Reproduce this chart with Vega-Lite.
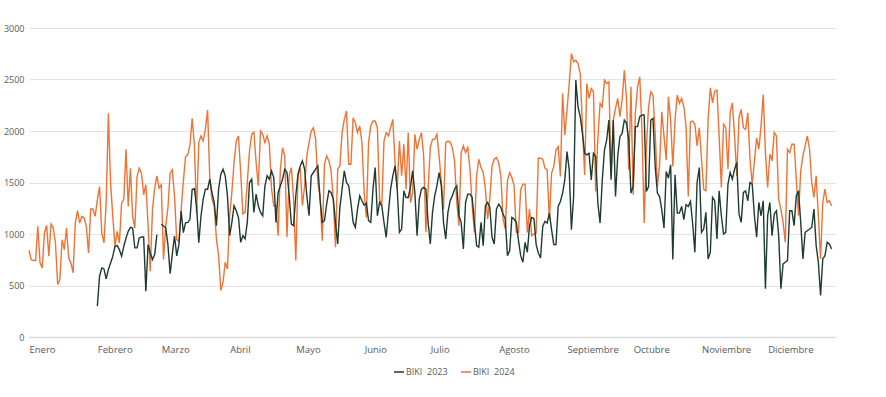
{
"$schema": "https://vega.github.io/schema/vega-lite/v6.json",
"width": 807, "height": 309,
"autosize": {"type": "none"},
"padding": {"left": 29, "top": 28, "right": 50, "bottom": 60},
"background": "white",
"config": {"view": {"stroke": null}, "font": "Open Sans"},
"data": {"values": [
{"dia":0,"serie":"BIKI  2024","valor":842},{"dia":1,"serie":"BIKI  2024","valor":750},{"dia":2,"serie":"BIKI  2024","valor":742},{"dia":3,"serie":"BIKI  2024","valor":742},{"dia":4,"serie":"BIKI  2024","valor":1074},{"dia":5,"serie":"BIKI  2024","valor":720},{"dia":6,"serie":"BIKI  2024","valor":671},{"dia":7,"serie":"BIKI  2024","valor":1010},{"dia":8,"serie":"BIKI  2024","valor":1084},{"dia":9,"serie":"BIKI  2024","valor":784},
{"dia":10,"serie":"BIKI  2024","valor":1097},{"dia":11,"serie":"BIKI  2024","valor":1058},{"dia":12,"serie":"BIKI  2024","valor":913},{"dia":13,"serie":"BIKI  2024","valor":510},{"dia":14,"serie":"BIKI  2024","valor":558},{"dia":15,"serie":"BIKI  2024","valor":945},{"dia":16,"serie":"BIKI  2024","valor":848},{"dia":17,"serie":"BIKI  2024","valor":1058},{"dia":18,"serie":"BIKI  2024","valor":768},{"dia":19,"serie":"BIKI  2024","valor":720},
{"dia":20,"serie":"BIKI  2024","valor":623},{"dia":21,"serie":"BIKI  2024","valor":1106},{"dia":22,"serie":"BIKI  2024","valor":1226},{"dia":23,"serie":"BIKI  2024","valor":1106},{"dia":24,"serie":"BIKI  2024","valor":1171},{"dia":25,"serie":"BIKI  2024","valor":1155},{"dia":26,"serie":"BIKI  2024","valor":1074},{"dia":27,"serie":"BIKI  2024","valor":816},{"dia":28,"serie":"BIKI  2024","valor":1242},{"dia":29,"serie":"BIKI  2024","valor":1242},
{"dia":30,"serie":"BIKI  2024","valor":1171},{"dia":31,"serie":"BIKI  2024","valor":1332},{"dia":32,"serie":"BIKI  2024","valor":1461},{"dia":33,"serie":"BIKI  2024","valor":1010},{"dia":34,"serie":"BIKI  2024","valor":913},{"dia":35,"serie":"BIKI  2024","valor":1300},{"dia":36,"serie":"BIKI  2024","valor":2171},{"dia":37,"serie":"BIKI  2024","valor":1494},{"dia":38,"serie":"BIKI  2024","valor":1171},{"dia":39,"serie":"BIKI  2024","valor":880},
{"dia":40,"serie":"BIKI  2024","valor":1026},{"dia":41,"serie":"BIKI  2024","valor":913},{"dia":42,"serie":"BIKI  2024","valor":1300},{"dia":43,"serie":"BIKI  2024","valor":1339},{"dia":44,"serie":"BIKI  2024","valor":1823},{"dia":45,"serie":"BIKI  2024","valor":1268},{"dia":46,"serie":"BIKI  2024","valor":1639},{"dia":47,"serie":"BIKI  2024","valor":1171},{"dia":48,"serie":"BIKI  2024","valor":1058},{"dia":49,"serie":"BIKI  2024","valor":1558},
{"dia":50,"serie":"BIKI  2024","valor":1639},{"dia":51,"serie":"BIKI  2024","valor":1590},{"dia":52,"serie":"BIKI  2024","valor":1381},{"dia":53,"serie":"BIKI  2024","valor":1478},{"dia":54,"serie":"BIKI  2024","valor":1090},{"dia":55,"serie":"BIKI  2024","valor":639},{"dia":56,"serie":"BIKI  2024","valor":1235},{"dia":57,"serie":"BIKI  2024","valor":1445},{"dia":58,"serie":"BIKI  2024","valor":1565},{"dia":59,"serie":"BIKI  2024","valor":1445},
{"dia":60,"serie":"BIKI  2024","valor":1478},{"dia":61,"serie":"BIKI  2024","valor":752},{"dia":62,"serie":"BIKI  2024","valor":1074},{"dia":63,"serie":"BIKI  2024","valor":1252},{"dia":64,"serie":"BIKI  2024","valor":1590},{"dia":65,"serie":"BIKI  2024","valor":1623},{"dia":66,"serie":"BIKI  2024","valor":1365},{"dia":67,"serie":"BIKI  2024","valor":945},{"dia":68,"serie":"BIKI  2024","valor":929},{"dia":69,"serie":"BIKI  2024","valor":1235},
{"dia":70,"serie":"BIKI  2024","valor":1510},{"dia":71,"serie":"BIKI  2024","valor":1752},{"dia":72,"serie":"BIKI  2024","valor":1768},{"dia":73,"serie":"BIKI  2024","valor":1865},{"dia":74,"serie":"BIKI  2024","valor":2123},{"dia":75,"serie":"BIKI  2024","valor":1865},{"dia":76,"serie":"BIKI  2024","valor":1200},{"dia":77,"serie":"BIKI  2024","valor":1887},{"dia":78,"serie":"BIKI  2024","valor":1952},{"dia":79,"serie":"BIKI  2024","valor":1903},
{"dia":80,"serie":"BIKI  2024","valor":2016},{"dia":81,"serie":"BIKI  2024","valor":2203},{"dia":82,"serie":"BIKI  2024","valor":1532},{"dia":83,"serie":"BIKI  2024","valor":1339},{"dia":84,"serie":"BIKI  2024","valor":1274},{"dia":85,"serie":"BIKI  2024","valor":952},{"dia":86,"serie":"BIKI  2024","valor":790},{"dia":87,"serie":"BIKI  2024","valor":452},{"dia":88,"serie":"BIKI  2024","valor":532},{"dia":89,"serie":"BIKI  2024","valor":726},
{"dia":90,"serie":"BIKI  2024","valor":661},{"dia":91,"serie":"BIKI  2024","valor":1177},{"dia":92,"serie":"BIKI  2024","valor":1403},{"dia":93,"serie":"BIKI  2024","valor":1694},{"dia":94,"serie":"BIKI  2024","valor":1903},{"dia":95,"serie":"BIKI  2024","valor":1952},{"dia":96,"serie":"BIKI  2024","valor":1597},{"dia":97,"serie":"BIKI  2024","valor":1194},{"dia":98,"serie":"BIKI  2024","valor":1210},{"dia":99,"serie":"BIKI  2024","valor":1500},
{"dia":100,"serie":"BIKI  2024","valor":1806},{"dia":101,"serie":"BIKI  2024","valor":1968},{"dia":102,"serie":"BIKI  2024","valor":1990},{"dia":103,"serie":"BIKI  2024","valor":1694},{"dia":104,"serie":"BIKI  2024","valor":1468},{"dia":105,"serie":"BIKI  2024","valor":2000},{"dia":106,"serie":"BIKI  2024","valor":1968},{"dia":107,"serie":"BIKI  2024","valor":1887},{"dia":108,"serie":"BIKI  2024","valor":1952},{"dia":109,"serie":"BIKI  2024","valor":1871},
{"dia":110,"serie":"BIKI  2024","valor":1435},{"dia":111,"serie":"BIKI  2024","valor":1274},{"dia":112,"serie":"BIKI  2024","valor":1274},{"dia":113,"serie":"BIKI  2024","valor":984},{"dia":114,"serie":"BIKI  2024","valor":1629},{"dia":115,"serie":"BIKI  2024","valor":1839},{"dia":116,"serie":"BIKI  2024","valor":1758},{"dia":117,"serie":"BIKI  2024","valor":968},{"dia":118,"serie":"BIKI  2024","valor":1565},{"dia":119,"serie":"BIKI  2024","valor":1645},
{"dia":120,"serie":"BIKI  2024","valor":1339},{"dia":121,"serie":"BIKI  2024","valor":742},{"dia":122,"serie":"BIKI  2024","valor":1565},{"dia":123,"serie":"BIKI  2024","valor":1645},{"dia":124,"serie":"BIKI  2024","valor":1274},{"dia":125,"serie":"BIKI  2024","valor":1468},{"dia":126,"serie":"BIKI  2024","valor":1758},{"dia":127,"serie":"BIKI  2024","valor":1887},{"dia":128,"serie":"BIKI  2024","valor":2000},{"dia":129,"serie":"BIKI  2024","valor":2032},
{"dia":130,"serie":"BIKI  2024","valor":1919},{"dia":131,"serie":"BIKI  2024","valor":1500},{"dia":132,"serie":"BIKI  2024","valor":1371},{"dia":133,"serie":"BIKI  2024","valor":935},{"dia":134,"serie":"BIKI  2024","valor":1677},{"dia":135,"serie":"BIKI  2024","valor":1758},{"dia":136,"serie":"BIKI  2024","valor":1710},{"dia":137,"serie":"BIKI  2024","valor":1613},{"dia":138,"serie":"BIKI  2024","valor":1339},{"dia":139,"serie":"BIKI  2024","valor":871},
{"dia":140,"serie":"BIKI  2024","valor":1629},{"dia":141,"serie":"BIKI  2024","valor":1661},{"dia":142,"serie":"BIKI  2024","valor":1984},{"dia":143,"serie":"BIKI  2024","valor":2113},{"dia":144,"serie":"BIKI  2024","valor":2194},{"dia":145,"serie":"BIKI  2024","valor":1677},{"dia":146,"serie":"BIKI  2024","valor":1677},{"dia":147,"serie":"BIKI  2024","valor":2129},{"dia":148,"serie":"BIKI  2024","valor":2081},{"dia":149,"serie":"BIKI  2024","valor":1984},
{"dia":150,"serie":"BIKI  2024","valor":2048},{"dia":151,"serie":"BIKI  2024","valor":1887},{"dia":152,"serie":"BIKI  2024","valor":1400},{"dia":153,"serie":"BIKI  2024","valor":1161},{"dia":154,"serie":"BIKI  2024","valor":1887},{"dia":155,"serie":"BIKI  2024","valor":2048},{"dia":156,"serie":"BIKI  2024","valor":2097},{"dia":157,"serie":"BIKI  2024","valor":2097},{"dia":158,"serie":"BIKI  2024","valor":2032},{"dia":159,"serie":"BIKI  2024","valor":1339},
{"dia":160,"serie":"BIKI  2024","valor":1274},{"dia":161,"serie":"BIKI  2024","valor":1903},{"dia":162,"serie":"BIKI  2024","valor":1984},{"dia":163,"serie":"BIKI  2024","valor":1952},{"dia":164,"serie":"BIKI  2024","valor":2032},{"dia":165,"serie":"BIKI  2024","valor":2113},{"dia":166,"serie":"BIKI  2024","valor":1694},{"dia":167,"serie":"BIKI  2024","valor":1435},{"dia":168,"serie":"BIKI  2024","valor":1903},{"dia":169,"serie":"BIKI  2024","valor":1565},
{"dia":170,"serie":"BIKI  2024","valor":1871},{"dia":171,"serie":"BIKI  2024","valor":1435},{"dia":172,"serie":"BIKI  2024","valor":1984},{"dia":173,"serie":"BIKI  2024","valor":1306},{"dia":174,"serie":"BIKI  2024","valor":1403},{"dia":175,"serie":"BIKI  2024","valor":1968},{"dia":176,"serie":"BIKI  2024","valor":1823},{"dia":177,"serie":"BIKI  2024","valor":1919},{"dia":178,"serie":"BIKI  2024","valor":1984},{"dia":179,"serie":"BIKI  2024","valor":1758},
{"dia":180,"serie":"BIKI  2024","valor":1016},{"dia":181,"serie":"BIKI  2024","valor":1435},{"dia":182,"serie":"BIKI  2024","valor":1839},{"dia":183,"serie":"BIKI  2024","valor":1919},{"dia":184,"serie":"BIKI  2024","valor":1919},{"dia":185,"serie":"BIKI  2024","valor":1968},{"dia":186,"serie":"BIKI  2024","valor":1758},{"dia":187,"serie":"BIKI  2024","valor":1500},{"dia":188,"serie":"BIKI  2024","valor":1242},{"dia":189,"serie":"BIKI  2024","valor":1887},
{"dia":190,"serie":"BIKI  2024","valor":1903},{"dia":191,"serie":"BIKI  2024","valor":1893},{"dia":192,"serie":"BIKI  2024","valor":1839},{"dia":193,"serie":"BIKI  2024","valor":1710},{"dia":194,"serie":"BIKI  2024","valor":1306},{"dia":195,"serie":"BIKI  2024","valor":1081},{"dia":196,"serie":"BIKI  2024","valor":1790},{"dia":197,"serie":"BIKI  2024","valor":1855},{"dia":198,"serie":"BIKI  2024","valor":1790},{"dia":199,"serie":"BIKI  2024","valor":1839},
{"dia":200,"serie":"BIKI  2024","valor":1629},{"dia":201,"serie":"BIKI  2024","valor":1274},{"dia":202,"serie":"BIKI  2024","valor":1016},{"dia":203,"serie":"BIKI  2024","valor":1565},{"dia":204,"serie":"BIKI  2024","valor":1726},{"dia":205,"serie":"BIKI  2024","valor":1645},{"dia":206,"serie":"BIKI  2024","valor":1597},{"dia":207,"serie":"BIKI  2024","valor":1435},{"dia":208,"serie":"BIKI  2024","valor":1145},{"dia":209,"serie":"BIKI  2024","valor":1339},
{"dia":210,"serie":"BIKI  2024","valor":1661},{"dia":211,"serie":"BIKI  2024","valor":1726},{"dia":212,"serie":"BIKI  2024","valor":1742},{"dia":213,"serie":"BIKI  2024","valor":1694},{"dia":214,"serie":"BIKI  2024","valor":1565},{"dia":215,"serie":"BIKI  2024","valor":1145},{"dia":216,"serie":"BIKI  2024","valor":1048},{"dia":217,"serie":"BIKI  2024","valor":1516},{"dia":218,"serie":"BIKI  2024","valor":1597},{"dia":219,"serie":"BIKI  2024","valor":1548},
{"dia":220,"serie":"BIKI  2024","valor":1468},{"dia":221,"serie":"BIKI  2024","valor":1016},{"dia":222,"serie":"BIKI  2024","valor":1016},{"dia":223,"serie":"BIKI  2024","valor":1435},{"dia":224,"serie":"BIKI  2024","valor":1484},{"dia":225,"serie":"BIKI  2024","valor":1484},{"dia":226,"serie":"BIKI  2024","valor":1016},{"dia":227,"serie":"BIKI  2024","valor":1242},{"dia":228,"serie":"BIKI  2024","valor":984},{"dia":229,"serie":"BIKI  2024","valor":1000},
{"dia":230,"serie":"BIKI  2024","valor":1010},{"dia":231,"serie":"BIKI  2024","valor":1735},{"dia":232,"serie":"BIKI  2024","valor":1735},{"dia":233,"serie":"BIKI  2024","valor":1726},{"dia":234,"serie":"BIKI  2024","valor":1639},{"dia":235,"serie":"BIKI  2024","valor":1623},{"dia":236,"serie":"BIKI  2024","valor":1139},{"dia":237,"serie":"BIKI  2024","valor":1590},{"dia":238,"serie":"BIKI  2024","valor":1655},{"dia":239,"serie":"BIKI  2024","valor":1816},
{"dia":240,"serie":"BIKI  2024","valor":1848},{"dia":241,"serie":"BIKI  2024","valor":1558},{"dia":242,"serie":"BIKI  2024","valor":2365},{"dia":243,"serie":"BIKI  2024","valor":1961},{"dia":244,"serie":"BIKI  2024","valor":2203},{"dia":245,"serie":"BIKI  2024","valor":2461},{"dia":246,"serie":"BIKI  2024","valor":2752},{"dia":247,"serie":"BIKI  2024","valor":2671},{"dia":248,"serie":"BIKI  2024","valor":2687},{"dia":249,"serie":"BIKI  2024","valor":2655},
{"dia":250,"serie":"BIKI  2024","valor":2558},{"dia":251,"serie":"BIKI  2024","valor":2042},{"dia":252,"serie":"BIKI  2024","valor":1574},{"dia":253,"serie":"BIKI  2024","valor":2461},{"dia":254,"serie":"BIKI  2024","valor":2316},{"dia":255,"serie":"BIKI  2024","valor":2413},{"dia":256,"serie":"BIKI  2024","valor":2381},{"dia":257,"serie":"BIKI  2024","valor":1413},{"dia":258,"serie":"BIKI  2024","valor":1929},{"dia":259,"serie":"BIKI  2024","valor":2268},
{"dia":260,"serie":"BIKI  2024","valor":2235},{"dia":261,"serie":"BIKI  2024","valor":2494},{"dia":262,"serie":"BIKI  2024","valor":2461},{"dia":263,"serie":"BIKI  2024","valor":2477},{"dia":264,"serie":"BIKI  2024","valor":1558},{"dia":265,"serie":"BIKI  2024","valor":2106},{"dia":266,"serie":"BIKI  2024","valor":2219},{"dia":267,"serie":"BIKI  2024","valor":2316},{"dia":268,"serie":"BIKI  2024","valor":2139},{"dia":269,"serie":"BIKI  2024","valor":2300},
{"dia":270,"serie":"BIKI  2024","valor":2590},{"dia":271,"serie":"BIKI  2024","valor":2316},{"dia":272,"serie":"BIKI  2024","valor":1623},{"dia":273,"serie":"BIKI  2024","valor":2429},{"dia":274,"serie":"BIKI  2024","valor":1381},{"dia":275,"serie":"BIKI  2024","valor":2171},{"dia":276,"serie":"BIKI  2024","valor":2429},{"dia":277,"serie":"BIKI  2024","valor":2526},{"dia":278,"serie":"BIKI  2024","valor":2010},{"dia":279,"serie":"BIKI  2024","valor":1106},
{"dia":280,"serie":"BIKI  2024","valor":1848},{"dia":281,"serie":"BIKI  2024","valor":2235},{"dia":282,"serie":"BIKI  2024","valor":2381},{"dia":283,"serie":"BIKI  2024","valor":2348},{"dia":284,"serie":"BIKI  2024","valor":1977},{"dia":285,"serie":"BIKI  2024","valor":1461},{"dia":286,"serie":"BIKI  2024","valor":1671},{"dia":287,"serie":"BIKI  2024","valor":2187},{"dia":288,"serie":"BIKI  2024","valor":1945},{"dia":289,"serie":"BIKI  2024","valor":1719},
{"dia":290,"serie":"BIKI  2024","valor":2332},{"dia":291,"serie":"BIKI  2024","valor":2106},{"dia":292,"serie":"BIKI  2024","valor":1655},{"dia":293,"serie":"BIKI  2024","valor":2106},{"dia":294,"serie":"BIKI  2024","valor":2348},{"dia":295,"serie":"BIKI  2024","valor":2268},{"dia":296,"serie":"BIKI  2024","valor":2316},{"dia":297,"serie":"BIKI  2024","valor":2235},{"dia":298,"serie":"BIKI  2024","valor":2042},{"dia":299,"serie":"BIKI  2024","valor":1364},
{"dia":300,"serie":"BIKI  2024","valor":2090},{"dia":301,"serie":"BIKI  2024","valor":2097},{"dia":302,"serie":"BIKI  2024","valor":2065},{"dia":303,"serie":"BIKI  2024","valor":1855},{"dia":304,"serie":"BIKI  2024","valor":2032},{"dia":305,"serie":"BIKI  2024","valor":1726},{"dia":306,"serie":"BIKI  2024","valor":1435},{"dia":307,"serie":"BIKI  2024","valor":1419},{"dia":308,"serie":"BIKI  2024","valor":2113},{"dia":309,"serie":"BIKI  2024","valor":2419},
{"dia":310,"serie":"BIKI  2024","valor":2274},{"dia":311,"serie":"BIKI  2024","valor":2387},{"dia":312,"serie":"BIKI  2024","valor":2397},{"dia":313,"serie":"BIKI  2024","valor":1952},{"dia":314,"serie":"BIKI  2024","valor":1452},{"dia":315,"serie":"BIKI  2024","valor":2065},{"dia":316,"serie":"BIKI  2024","valor":2032},{"dia":317,"serie":"BIKI  2024","valor":1629},{"dia":318,"serie":"BIKI  2024","valor":2177},{"dia":319,"serie":"BIKI  2024","valor":2274},
{"dia":320,"serie":"BIKI  2024","valor":1952},{"dia":321,"serie":"BIKI  2024","valor":1564},{"dia":322,"serie":"BIKI  2024","valor":2129},{"dia":323,"serie":"BIKI  2024","valor":2210},{"dia":324,"serie":"BIKI  2024","valor":2032},{"dia":325,"serie":"BIKI  2024","valor":2016},{"dia":326,"serie":"BIKI  2024","valor":2177},{"dia":327,"serie":"BIKI  2024","valor":1726},{"dia":328,"serie":"BIKI  2024","valor":1484},{"dia":329,"serie":"BIKI  2024","valor":1710},
{"dia":330,"serie":"BIKI  2024","valor":1935},{"dia":331,"serie":"BIKI  2024","valor":1823},{"dia":332,"serie":"BIKI  2024","valor":2048},{"dia":333,"serie":"BIKI  2024","valor":2355},{"dia":334,"serie":"BIKI  2024","valor":1790},{"dia":335,"serie":"BIKI  2024","valor":1452},{"dia":336,"serie":"BIKI  2024","valor":1774},{"dia":337,"serie":"BIKI  2024","valor":1710},{"dia":338,"serie":"BIKI  2024","valor":1984},{"dia":339,"serie":"BIKI  2024","valor":1952},
{"dia":340,"serie":"BIKI  2024","valor":1339},{"dia":341,"serie":"BIKI  2024","valor":1242},{"dia":342,"serie":"BIKI  2024","valor":1113},{"dia":343,"serie":"BIKI  2024","valor":919},{"dia":344,"serie":"BIKI  2024","valor":1823},{"dia":345,"serie":"BIKI  2024","valor":1790},{"dia":346,"serie":"BIKI  2024","valor":1871},{"dia":347,"serie":"BIKI  2024","valor":1871},{"dia":348,"serie":"BIKI  2024","valor":1532},{"dia":349,"serie":"BIKI  2024","valor":1177},
{"dia":350,"serie":"BIKI  2024","valor":1613},{"dia":351,"serie":"BIKI  2024","valor":1758},{"dia":352,"serie":"BIKI  2024","valor":1855},{"dia":353,"serie":"BIKI  2024","valor":1952},{"dia":354,"serie":"BIKI  2024","valor":1823},{"dia":355,"serie":"BIKI  2024","valor":1500},{"dia":356,"serie":"BIKI  2024","valor":1355},{"dia":357,"serie":"BIKI  2024","valor":1565},{"dia":358,"serie":"BIKI  2024","valor":1177},{"dia":359,"serie":"BIKI  2024","valor":758},
{"dia":360,"serie":"BIKI  2024","valor":1306},{"dia":361,"serie":"BIKI  2024","valor":1435},{"dia":362,"serie":"BIKI  2024","valor":1306},{"dia":363,"serie":"BIKI  2024","valor":1323},{"dia":364,"serie":"BIKI  2024","valor":1274},
{"dia":31,"serie":"BIKI  2023","valor":300},{"dia":32,"serie":"BIKI  2023","valor":590},{"dia":33,"serie":"BIKI  2023","valor":671},{"dia":34,"serie":"BIKI  2023","valor":661},{"dia":35,"serie":"BIKI  2023","valor":565},{"dia":36,"serie":"BIKI  2023","valor":655},{"dia":37,"serie":"BIKI  2023","valor":719},{"dia":38,"serie":"BIKI  2023","valor":784},{"dia":39,"serie":"BIKI  2023","valor":881},
{"dia":40,"serie":"BIKI  2023","valor":887},{"dia":41,"serie":"BIKI  2023","valor":848},{"dia":42,"serie":"BIKI  2023","valor":784},{"dia":43,"serie":"BIKI  2023","valor":881},{"dia":44,"serie":"BIKI  2023","valor":961},{"dia":45,"serie":"BIKI  2023","valor":1026},{"dia":46,"serie":"BIKI  2023","valor":1065},{"dia":47,"serie":"BIKI  2023","valor":1058},{"dia":48,"serie":"BIKI  2023","valor":865},{"dia":49,"serie":"BIKI  2023","valor":865},
{"dia":50,"serie":"BIKI  2023","valor":961},{"dia":51,"serie":"BIKI  2023","valor":971},{"dia":52,"serie":"BIKI  2023","valor":971},{"dia":53,"serie":"BIKI  2023","valor":445},{"dia":54,"serie":"BIKI  2023","valor":897},{"dia":55,"serie":"BIKI  2023","valor":816},{"dia":56,"serie":"BIKI  2023","valor":752},{"dia":57,"serie":"BIKI  2023","valor":800},{"dia":58,"serie":"BIKI  2023","valor":994},{"dia":59,"serie":"BIKI  2023","valor":null},
{"dia":60,"serie":"BIKI  2023","valor":1094},{"dia":61,"serie":"BIKI  2023","valor":1077},{"dia":62,"serie":"BIKI  2023","valor":1060},{"dia":63,"serie":"BIKI  2023","valor":900},{"dia":64,"serie":"BIKI  2023","valor":616},{"dia":65,"serie":"BIKI  2023","valor":803},{"dia":66,"serie":"BIKI  2023","valor":981},{"dia":67,"serie":"BIKI  2023","valor":787},{"dia":68,"serie":"BIKI  2023","valor":900},{"dia":69,"serie":"BIKI  2023","valor":1223},
{"dia":70,"serie":"BIKI  2023","valor":1013},{"dia":71,"serie":"BIKI  2023","valor":1110},{"dia":72,"serie":"BIKI  2023","valor":1110},{"dia":73,"serie":"BIKI  2023","valor":1142},{"dia":74,"serie":"BIKI  2023","valor":1432},{"dia":75,"serie":"BIKI  2023","valor":1439},{"dia":76,"serie":"BIKI  2023","valor":1271},{"dia":77,"serie":"BIKI  2023","valor":916},{"dia":78,"serie":"BIKI  2023","valor":1174},{"dia":79,"serie":"BIKI  2023","valor":1339},
{"dia":80,"serie":"BIKI  2023","valor":1435},{"dia":81,"serie":"BIKI  2023","valor":1435},{"dia":82,"serie":"BIKI  2023","valor":1532},{"dia":83,"serie":"BIKI  2023","valor":1400},{"dia":84,"serie":"BIKI  2023","valor":1306},{"dia":85,"serie":"BIKI  2023","valor":1081},{"dia":86,"serie":"BIKI  2023","valor":1435},{"dia":87,"serie":"BIKI  2023","valor":1581},{"dia":88,"serie":"BIKI  2023","valor":1629},{"dia":89,"serie":"BIKI  2023","valor":1565},
{"dia":90,"serie":"BIKI  2023","valor":1371},{"dia":91,"serie":"BIKI  2023","valor":984},{"dia":92,"serie":"BIKI  2023","valor":1113},{"dia":93,"serie":"BIKI  2023","valor":1274},{"dia":94,"serie":"BIKI  2023","valor":1226},{"dia":95,"serie":"BIKI  2023","valor":1161},{"dia":96,"serie":"BIKI  2023","valor":919},{"dia":97,"serie":"BIKI  2023","valor":984},{"dia":98,"serie":"BIKI  2023","valor":952},{"dia":99,"serie":"BIKI  2023","valor":1113},
{"dia":100,"serie":"BIKI  2023","valor":1500},{"dia":101,"serie":"BIKI  2023","valor":1532},{"dia":102,"serie":"BIKI  2023","valor":1210},{"dia":103,"serie":"BIKI  2023","valor":1387},{"dia":104,"serie":"BIKI  2023","valor":1274},{"dia":105,"serie":"BIKI  2023","valor":1210},{"dia":106,"serie":"BIKI  2023","valor":1177},{"dia":107,"serie":"BIKI  2023","valor":1468},{"dia":108,"serie":"BIKI  2023","valor":1565},{"dia":109,"serie":"BIKI  2023","valor":1532},
{"dia":110,"serie":"BIKI  2023","valor":1613},{"dia":111,"serie":"BIKI  2023","valor":1548},{"dia":112,"serie":"BIKI  2023","valor":1113},{"dia":113,"serie":"BIKI  2023","valor":1403},{"dia":114,"serie":"BIKI  2023","valor":1468},{"dia":115,"serie":"BIKI  2023","valor":1532},{"dia":116,"serie":"BIKI  2023","valor":1629},{"dia":117,"serie":"BIKI  2023","valor":1597},{"dia":118,"serie":"BIKI  2023","valor":1371},{"dia":119,"serie":"BIKI  2023","valor":1097},
{"dia":120,"serie":"BIKI  2023","valor":1081},{"dia":121,"serie":"BIKI  2023","valor":1371},{"dia":122,"serie":"BIKI  2023","valor":1581},{"dia":123,"serie":"BIKI  2023","valor":1661},{"dia":124,"serie":"BIKI  2023","valor":1710},{"dia":125,"serie":"BIKI  2023","valor":1629},{"dia":126,"serie":"BIKI  2023","valor":1371},{"dia":127,"serie":"BIKI  2023","valor":1177},{"dia":128,"serie":"BIKI  2023","valor":1565},{"dia":129,"serie":"BIKI  2023","valor":1597},
{"dia":130,"serie":"BIKI  2023","valor":1629},{"dia":131,"serie":"BIKI  2023","valor":1661},{"dia":132,"serie":"BIKI  2023","valor":1339},{"dia":133,"serie":"BIKI  2023","valor":1113},{"dia":134,"serie":"BIKI  2023","valor":1129},{"dia":135,"serie":"BIKI  2023","valor":1290},{"dia":136,"serie":"BIKI  2023","valor":1419},{"dia":137,"serie":"BIKI  2023","valor":1403},{"dia":138,"serie":"BIKI  2023","valor":1339},{"dia":139,"serie":"BIKI  2023","valor":1113},
{"dia":140,"serie":"BIKI  2023","valor":903},{"dia":141,"serie":"BIKI  2023","valor":1258},{"dia":142,"serie":"BIKI  2023","valor":1435},{"dia":143,"serie":"BIKI  2023","valor":1613},{"dia":144,"serie":"BIKI  2023","valor":1500},{"dia":145,"serie":"BIKI  2023","valor":1468},{"dia":146,"serie":"BIKI  2023","valor":1306},{"dia":147,"serie":"BIKI  2023","valor":1113},{"dia":148,"serie":"BIKI  2023","valor":1065},{"dia":149,"serie":"BIKI  2023","valor":1242},
{"dia":150,"serie":"BIKI  2023","valor":1371},{"dia":151,"serie":"BIKI  2023","valor":1323},{"dia":152,"serie":"BIKI  2023","valor":1280},{"dia":153,"serie":"BIKI  2023","valor":1300},{"dia":154,"serie":"BIKI  2023","valor":1129},{"dia":155,"serie":"BIKI  2023","valor":1113},{"dia":156,"serie":"BIKI  2023","valor":1435},{"dia":157,"serie":"BIKI  2023","valor":1645},{"dia":158,"serie":"BIKI  2023","valor":1177},{"dia":159,"serie":"BIKI  2023","valor":1306},
{"dia":160,"serie":"BIKI  2023","valor":1274},{"dia":161,"serie":"BIKI  2023","valor":1113},{"dia":162,"serie":"BIKI  2023","valor":968},{"dia":163,"serie":"BIKI  2023","valor":1210},{"dia":164,"serie":"BIKI  2023","valor":1435},{"dia":165,"serie":"BIKI  2023","valor":1565},{"dia":166,"serie":"BIKI  2023","valor":1661},{"dia":167,"serie":"BIKI  2023","valor":1435},{"dia":168,"serie":"BIKI  2023","valor":1016},{"dia":169,"serie":"BIKI  2023","valor":1048},
{"dia":170,"serie":"BIKI  2023","valor":1419},{"dia":171,"serie":"BIKI  2023","valor":1355},{"dia":172,"serie":"BIKI  2023","valor":1355},{"dia":173,"serie":"BIKI  2023","valor":1452},{"dia":174,"serie":"BIKI  2023","valor":1613},{"dia":175,"serie":"BIKI  2023","valor":1403},{"dia":176,"serie":"BIKI  2023","valor":984},{"dia":177,"serie":"BIKI  2023","valor":1339},{"dia":178,"serie":"BIKI  2023","valor":1435},{"dia":179,"serie":"BIKI  2023","valor":1452},
{"dia":180,"serie":"BIKI  2023","valor":1435},{"dia":181,"serie":"BIKI  2023","valor":1113},{"dia":182,"serie":"BIKI  2023","valor":903},{"dia":183,"serie":"BIKI  2023","valor":1210},{"dia":184,"serie":"BIKI  2023","valor":1371},{"dia":185,"serie":"BIKI  2023","valor":1468},{"dia":186,"serie":"BIKI  2023","valor":1597},{"dia":187,"serie":"BIKI  2023","valor":1468},{"dia":188,"serie":"BIKI  2023","valor":1113},{"dia":189,"serie":"BIKI  2023","valor":952},
{"dia":190,"serie":"BIKI  2023","valor":1210},{"dia":191,"serie":"BIKI  2023","valor":1323},{"dia":192,"serie":"BIKI  2023","valor":1371},{"dia":193,"serie":"BIKI  2023","valor":1435},{"dia":194,"serie":"BIKI  2023","valor":1468},{"dia":195,"serie":"BIKI  2023","valor":1177},{"dia":196,"serie":"BIKI  2023","valor":1113},{"dia":197,"serie":"BIKI  2023","valor":855},{"dia":198,"serie":"BIKI  2023","valor":1306},{"dia":199,"serie":"BIKI  2023","valor":1387},
{"dia":200,"serie":"BIKI  2023","valor":1387},{"dia":201,"serie":"BIKI  2023","valor":1355},{"dia":202,"serie":"BIKI  2023","valor":1113},{"dia":203,"serie":"BIKI  2023","valor":887},{"dia":204,"serie":"BIKI  2023","valor":871},{"dia":205,"serie":"BIKI  2023","valor":1113},{"dia":206,"serie":"BIKI  2023","valor":887},{"dia":207,"serie":"BIKI  2023","valor":1274},{"dia":208,"serie":"BIKI  2023","valor":1306},{"dia":209,"serie":"BIKI  2023","valor":1258},
{"dia":210,"serie":"BIKI  2023","valor":968},{"dia":211,"serie":"BIKI  2023","valor":903},{"dia":212,"serie":"BIKI  2023","valor":1242},{"dia":213,"serie":"BIKI  2023","valor":1290},{"dia":214,"serie":"BIKI  2023","valor":1258},{"dia":215,"serie":"BIKI  2023","valor":1194},{"dia":216,"serie":"BIKI  2023","valor":1145},{"dia":217,"serie":"BIKI  2023","valor":790},{"dia":218,"serie":"BIKI  2023","valor":839},{"dia":219,"serie":"BIKI  2023","valor":1161},
{"dia":220,"serie":"BIKI  2023","valor":1145},{"dia":221,"serie":"BIKI  2023","valor":1113},{"dia":222,"serie":"BIKI  2023","valor":935},{"dia":223,"serie":"BIKI  2023","valor":790},{"dia":224,"serie":"BIKI  2023","valor":726},{"dia":225,"serie":"BIKI  2023","valor":919},{"dia":226,"serie":"BIKI  2023","valor":823},{"dia":227,"serie":"BIKI  2023","valor":1081},{"dia":228,"serie":"BIKI  2023","valor":1161},{"dia":229,"serie":"BIKI  2023","valor":1150},
{"dia":230,"serie":"BIKI  2023","valor":900},{"dia":231,"serie":"BIKI  2023","valor":816},{"dia":232,"serie":"BIKI  2023","valor":768},{"dia":233,"serie":"BIKI  2023","valor":1074},{"dia":234,"serie":"BIKI  2023","valor":1123},{"dia":235,"serie":"BIKI  2023","valor":1106},{"dia":236,"serie":"BIKI  2023","valor":1203},{"dia":237,"serie":"BIKI  2023","valor":1042},{"dia":238,"serie":"BIKI  2023","valor":897},{"dia":239,"serie":"BIKI  2023","valor":897},
{"dia":240,"serie":"BIKI  2023","valor":1268},{"dia":241,"serie":"BIKI  2023","valor":1316},{"dia":242,"serie":"BIKI  2023","valor":1397},{"dia":243,"serie":"BIKI  2023","valor":1526},{"dia":244,"serie":"BIKI  2023","valor":1800},{"dia":245,"serie":"BIKI  2023","valor":1623},{"dia":246,"serie":"BIKI  2023","valor":1042},{"dia":247,"serie":"BIKI  2023","valor":1364},{"dia":248,"serie":"BIKI  2023","valor":2494},{"dia":249,"serie":"BIKI  2023","valor":2235},
{"dia":250,"serie":"BIKI  2023","valor":2139},{"dia":251,"serie":"BIKI  2023","valor":1977},{"dia":252,"serie":"BIKI  2023","valor":1784},{"dia":253,"serie":"BIKI  2023","valor":1768},{"dia":254,"serie":"BIKI  2023","valor":1784},{"dia":255,"serie":"BIKI  2023","valor":1526},{"dia":256,"serie":"BIKI  2023","valor":1784},{"dia":257,"serie":"BIKI  2023","valor":1752},{"dia":258,"serie":"BIKI  2023","valor":1300},{"dia":259,"serie":"BIKI  2023","valor":1106},
{"dia":260,"serie":"BIKI  2023","valor":1526},{"dia":261,"serie":"BIKI  2023","valor":1816},{"dia":262,"serie":"BIKI  2023","valor":1913},{"dia":263,"serie":"BIKI  2023","valor":2106},{"dia":264,"serie":"BIKI  2023","valor":1526},{"dia":265,"serie":"BIKI  2023","valor":2106},{"dia":266,"serie":"BIKI  2023","valor":1364},{"dia":267,"serie":"BIKI  2023","valor":1752},{"dia":268,"serie":"BIKI  2023","valor":1945},{"dia":269,"serie":"BIKI  2023","valor":1977},
{"dia":270,"serie":"BIKI  2023","valor":2106},{"dia":271,"serie":"BIKI  2023","valor":2074},{"dia":272,"serie":"BIKI  2023","valor":1913},{"dia":273,"serie":"BIKI  2023","valor":1397},{"dia":274,"serie":"BIKI  2023","valor":1461},{"dia":275,"serie":"BIKI  2023","valor":2042},{"dia":276,"serie":"BIKI  2023","valor":2042},{"dia":277,"serie":"BIKI  2023","valor":2139},{"dia":278,"serie":"BIKI  2023","valor":2155},{"dia":279,"serie":"BIKI  2023","valor":2155},
{"dia":280,"serie":"BIKI  2023","valor":1413},{"dia":281,"serie":"BIKI  2023","valor":1461},{"dia":282,"serie":"BIKI  2023","valor":2106},{"dia":283,"serie":"BIKI  2023","valor":2123},{"dia":284,"serie":"BIKI  2023","valor":1655},{"dia":285,"serie":"BIKI  2023","valor":1397},{"dia":286,"serie":"BIKI  2023","valor":1364},{"dia":287,"serie":"BIKI  2023","valor":1235},{"dia":288,"serie":"BIKI  2023","valor":1058},{"dia":289,"serie":"BIKI  2023","valor":1606},
{"dia":290,"serie":"BIKI  2023","valor":1542},{"dia":291,"serie":"BIKI  2023","valor":1671},{"dia":292,"serie":"BIKI  2023","valor":752},{"dia":293,"serie":"BIKI  2023","valor":1574},{"dia":294,"serie":"BIKI  2023","valor":1203},{"dia":295,"serie":"BIKI  2023","valor":1203},{"dia":296,"serie":"BIKI  2023","valor":1268},{"dia":297,"serie":"BIKI  2023","valor":1139},{"dia":298,"serie":"BIKI  2023","valor":1284},{"dia":299,"serie":"BIKI  2023","valor":1268},
{"dia":300,"serie":"BIKI  2023","valor":1316},{"dia":301,"serie":"BIKI  2023","valor":1100},{"dia":302,"serie":"BIKI  2023","valor":822},{"dia":303,"serie":"BIKI  2023","valor":1500},{"dia":304,"serie":"BIKI  2023","valor":1645},{"dia":305,"serie":"BIKI  2023","valor":1016},{"dia":306,"serie":"BIKI  2023","valor":1048},{"dia":307,"serie":"BIKI  2023","valor":1210},{"dia":308,"serie":"BIKI  2023","valor":758},{"dia":309,"serie":"BIKI  2023","valor":822},
{"dia":310,"serie":"BIKI  2023","valor":1355},{"dia":311,"serie":"BIKI  2023","valor":1323},{"dia":312,"serie":"BIKI  2023","valor":952},{"dia":313,"serie":"BIKI  2023","valor":1419},{"dia":314,"serie":"BIKI  2023","valor":1177},{"dia":315,"serie":"BIKI  2023","valor":1000},{"dia":316,"serie":"BIKI  2023","valor":1016},{"dia":317,"serie":"BIKI  2023","valor":1484},{"dia":318,"serie":"BIKI  2023","valor":1597},{"dia":319,"serie":"BIKI  2023","valor":1532},
{"dia":320,"serie":"BIKI  2023","valor":1629},{"dia":321,"serie":"BIKI  2023","valor":1694},{"dia":322,"serie":"BIKI  2023","valor":1194},{"dia":323,"serie":"BIKI  2023","valor":1113},{"dia":324,"serie":"BIKI  2023","valor":1403},{"dia":325,"serie":"BIKI  2023","valor":1419},{"dia":326,"serie":"BIKI  2023","valor":1323},{"dia":327,"serie":"BIKI  2023","valor":1500},{"dia":328,"serie":"BIKI  2023","valor":1484},{"dia":329,"serie":"BIKI  2023","valor":1177},
{"dia":330,"serie":"BIKI  2023","valor":968},{"dia":331,"serie":"BIKI  2023","valor":1306},{"dia":332,"serie":"BIKI  2023","valor":1177},{"dia":333,"serie":"BIKI  2023","valor":1323},{"dia":334,"serie":"BIKI  2023","valor":468},{"dia":335,"serie":"BIKI  2023","valor":1177},{"dia":336,"serie":"BIKI  2023","valor":1306},{"dia":337,"serie":"BIKI  2023","valor":984},{"dia":338,"serie":"BIKI  2023","valor":1194},{"dia":339,"serie":"BIKI  2023","valor":1226},
{"dia":340,"serie":"BIKI  2023","valor":984},{"dia":341,"serie":"BIKI  2023","valor":468},{"dia":342,"serie":"BIKI  2023","valor":710},{"dia":343,"serie":"BIKI  2023","valor":726},{"dia":344,"serie":"BIKI  2023","valor":742},{"dia":345,"serie":"BIKI  2023","valor":1226},{"dia":346,"serie":"BIKI  2023","valor":1226},{"dia":347,"serie":"BIKI  2023","valor":1081},{"dia":348,"serie":"BIKI  2023","valor":1371},{"dia":349,"serie":"BIKI  2023","valor":1419},
{"dia":350,"serie":"BIKI  2023","valor":1113},{"dia":351,"serie":"BIKI  2023","valor":758},{"dia":352,"serie":"BIKI  2023","valor":1016},{"dia":353,"serie":"BIKI  2023","valor":1032},{"dia":354,"serie":"BIKI  2023","valor":1048},{"dia":355,"serie":"BIKI  2023","valor":1065},{"dia":356,"serie":"BIKI  2023","valor":1242},{"dia":357,"serie":"BIKI  2023","valor":887},{"dia":358,"serie":"BIKI  2023","valor":726},{"dia":359,"serie":"BIKI  2023","valor":403},
{"dia":360,"serie":"BIKI  2023","valor":758},{"dia":361,"serie":"BIKI  2023","valor":790},{"dia":362,"serie":"BIKI  2023","valor":919},{"dia":363,"serie":"BIKI  2023","valor":903},{"dia":364,"serie":"BIKI  2023","valor":855}
]},
"mark": {"type": "line", "strokeWidth": 1.4, "interpolate": "linear"},
"encoding": {
"x": {"field": "dia", "type": "quantitative",
  "scale": {"domain": [0, 366], "nice": false, "zero": false},
  "axis": {"title": null, "grid": false, "ticks": false, "domainColor": "#d9d9d9", "domainWidth": 1.5,
    "values": [0,31,60,91,121,152,182,213,244,274,305,335],
    "labelExpr": "datum.value == 0 ? 'Enero' : datum.value == 31 ? 'Febrero' : datum.value == 60 ? 'Marzo' : datum.value == 91 ? 'Abril' : datum.value == 121 ? 'Mayo' : datum.value == 152 ? 'Junio' : datum.value == 182 ? 'Julio' : datum.value == 213 ? 'Agosto' : datum.value == 244 ? 'Septiembre' : datum.value == 274 ? 'Octubre' : datum.value == 305 ? 'Noviembre' : 'Diciembre'",
    "labelAlign": "left", "labelPadding": 7, "labelFontSize": 9.5, "labelColor": "#595959", "labelFlush": false}},
"y": {"field": "valor", "type": "quantitative",
  "scale": {"domain": [0, 3000], "nice": false},
  "axis": {"title": null, "domain": false, "ticks": false, "values": [0,500,1000,1500,2000,2500,3000], "format": "d",
    "gridColor": "#e4e4e4", "gridWidth": 1, "labelPadding": 5, "labelFontSize": 9, "labelColor": "#595959"}},
"color": {"field": "serie", "type": "nominal",
  "scale": {"domain": ["BIKI  2023", "BIKI  2024"], "range": ["#1e3b2f", "#ef7334"]},
  "legend": {"orient": "none", "legendX": 364, "legendY": 338, "direction": "horizontal", "title": null,
    "symbolType": "stroke", "symbolStrokeWidth": 1.5, "symbolSize": 100,
    "labelExpr": "replace(datum.label, ' ', '\u00a0')",
    "labelFontSize": 9, "labelColor": "#595959", "columnPadding": 10, "labelOffset": 1}},
"order": {"field": "dia", "type": "quantitative"}
}
}
